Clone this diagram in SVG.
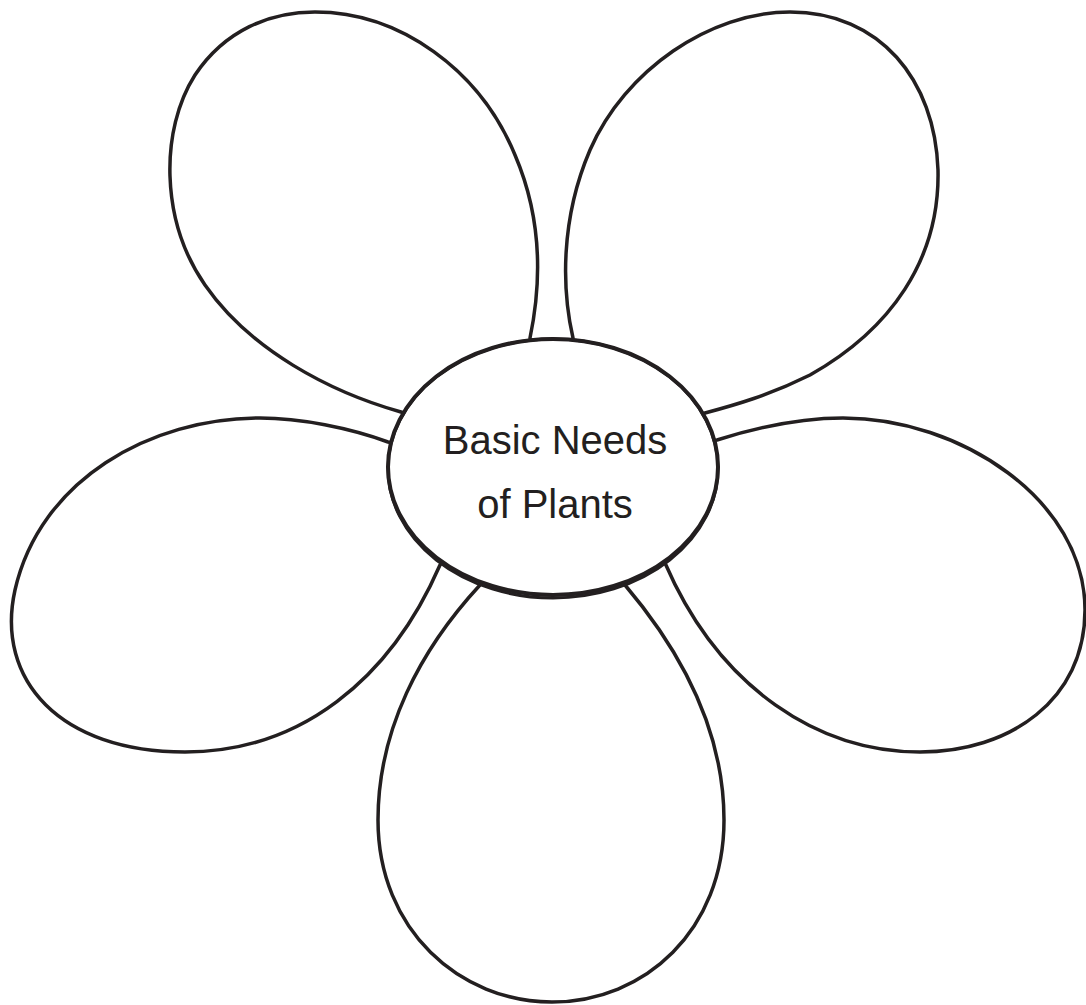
<svg xmlns="http://www.w3.org/2000/svg" width="1086" height="1005" viewBox="0 0 1086 1005">
<style>
.petal{fill:#fff;stroke:#231f20;stroke-width:3.5;stroke-linejoin:round}
.center{fill:#fff;stroke:#231f20;stroke-width:4}
.label{font-family:"Liberation Sans",Arial,sans-serif;font-size:40px;fill:#231f20;text-anchor:middle}
</style>
<rect width="1086" height="1005" fill="#fff"/>
<g id="petals">
<g id="petal-top-left"><path class="petal" d="M 401 412 C 330 392, 250 350, 205 285 C 160 220, 160 130, 195 75 C 225 30, 270 12, 315 12 C 400 12, 480 70, 515 155 C 545 225, 540 290, 530 338 L 552 470 Z"/></g>
<g id="petal-top-right"><path class="petal" d="M 573 338 C 562 290, 560 220, 590 150 C 625 70, 710 12, 790 12 C 880 12, 935 80, 938 170 C 940 260, 890 330, 810 375 C 770 395, 735 405, 705 413 L 552 470 Z"/></g>
<g id="petal-left"><path class="petal" d="M 388 442 C 350 428, 300 418, 260 418 C 150 418, 40 480, 15 590 C -5 680, 60 752, 185 752 C 300 752, 390 680, 440 565 L 552 470 Z"/></g>
<g id="petal-right"><path class="petal" d="M 717 440 C 755 428, 800 418, 843 418 C 960 418, 1085 500, 1085 610 C 1085 700, 1010 752, 920 752 C 820 752, 720 690, 665 563 L 552 470 Z"/></g>
<g id="petal-bottom"><path class="petal" d="M 480 585 C 420 650, 378 730, 378 820 C 378 930, 460 1002, 552 1002 C 645 1002, 724 930, 724 820 C 724 730, 680 650, 625 585 L 552 470 Z"/></g>
</g>
<g id="center-node">
<ellipse class="center" cx="553" cy="467" rx="165" ry="128"/>
<ellipse cx="553" cy="468.5" rx="165" ry="129.5" fill="none" stroke="#231f20" stroke-width="3"/>
<text class="label" x="555" y="454">Basic Needs</text>
<text class="label" x="555" y="518">of Plants</text>
</g>
</svg>
